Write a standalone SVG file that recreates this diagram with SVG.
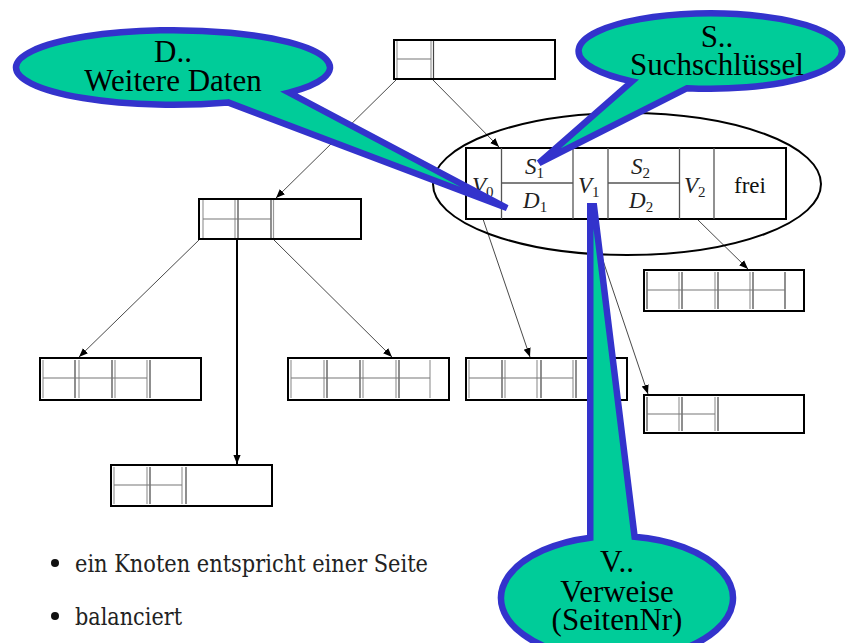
<svg xmlns="http://www.w3.org/2000/svg" width="849" height="643" viewBox="0 0 849 643">
<defs>
<marker id="arr" viewBox="0 0 10 10" refX="10" refY="5" markerWidth="9" markerHeight="9" markerUnits="userSpaceOnUse" orient="auto">
<path d="M0,1 L10,5 L0,9 z" fill="#000"/>
</marker>
<style>
.box{fill:#fff;stroke:#000;stroke-width:2}
.d1{stroke:#444;stroke-width:1.2;fill:none}
.d2{stroke:#999;stroke-width:1.2;fill:none}
.mid{stroke:#777;stroke-width:1.2;fill:none}
.edge{stroke:#333;stroke-width:0.9;fill:none}
.thick{stroke:#000;stroke-width:2;fill:none}
.cell{stroke:#555;stroke-width:1.3;fill:none}
.mt{font-style:italic;font-size:23px;fill:#222}
.sub{font-style:normal;font-size:15px}
.rm{font-size:23px;fill:#111}
.ct{font-size:31px;fill:#000;text-anchor:middle}
.bt{font-size:24px;fill:#222}
.co{fill:#00cc99;stroke:#3333cc;stroke-width:6.5;stroke-linejoin:miter}
</style>
</defs>

<g id="connectors">
<line class="edge" x1="397" y1="79" x2="276" y2="198" marker-end="url(#arr)"/>
<line class="edge" x1="432" y1="79" x2="499" y2="147" marker-end="url(#arr)"/>
<line class="edge" x1="200" y1="239" x2="79" y2="357" marker-end="url(#arr)"/>
<line class="thick" x1="237" y1="239" x2="237" y2="464" marker-end="url(#arr)"/>
<line class="edge" x1="273" y1="239" x2="392" y2="357" marker-end="url(#arr)"/>
<line class="edge" x1="483" y1="219" x2="530" y2="357" marker-end="url(#arr)"/>
<line class="edge" x1="589" y1="219" x2="648" y2="394" marker-end="url(#arr)"/>
<line class="edge" x1="697" y1="219" x2="748" y2="269" marker-end="url(#arr)"/>
</g>

<g id="root">
<rect class="box" x="394" y="40" width="161" height="39"/>
<line class="d2" x1="397" y1="41" x2="397" y2="78"/>
<line class="d2" x1="431" y1="41" x2="431" y2="78"/>
<line class="d1" x1="433.5" y1="41" x2="433.5" y2="78"/>
<line class="mid" x1="397" y1="59" x2="431" y2="59"/>
</g>

<g id="inner">
<rect class="box" x="199" y="199" width="162" height="40"/>
<line class="d2" x1="203" y1="200" x2="203" y2="238"/>
<line class="d2" x1="235" y1="200" x2="235" y2="238"/>
<line class="d1" x1="238" y1="200" x2="238" y2="238"/>
<line class="d1" x1="271" y1="200" x2="271" y2="238"/>
<line class="d2" x1="273.5" y1="200" x2="273.5" y2="238"/>
<line class="mid" x1="203" y1="219" x2="271" y2="219"/>
</g>

<g id="bignode" font-family="Liberation Serif, serif">
<ellipse cx="627" cy="184" rx="194" ry="71" fill="none" stroke="#000" stroke-width="2"/>
<rect class="box" x="466" y="148" width="320" height="71"/>
<line class="cell" x1="501.5" y1="148" x2="501.5" y2="219"/>
<line class="cell" x1="573" y1="148" x2="573" y2="219"/>
<line class="cell" x1="608" y1="148" x2="608" y2="219"/>
<line class="cell" x1="679.5" y1="148" x2="679.5" y2="219"/>
<line class="cell" x1="714" y1="148" x2="714" y2="219"/>
<line class="cell" x1="501.5" y1="183" x2="573" y2="183"/>
<line class="cell" x1="608" y1="183" x2="679.5" y2="183"/>
<text class="mt" x="472" y="193">V<tspan class="sub" dy="4">0</tspan></text>
<text class="mt" x="525" y="174">S<tspan class="sub" dy="4">1</tspan></text>
<text class="mt" x="523" y="208">D<tspan class="sub" dy="4">1</tspan></text>
<text class="mt" x="578" y="193">V<tspan class="sub" dy="4">1</tspan></text>
<text class="mt" x="631" y="174">S<tspan class="sub" dy="4">2</tspan></text>
<text class="mt" x="629" y="208">D<tspan class="sub" dy="4">2</tspan></text>
<text class="mt" x="684" y="193">V<tspan class="sub" dy="4">2</tspan></text>
<text class="rm" x="750" y="193" text-anchor="middle">frei</text>
</g>

<g id="leaf1">
<rect class="box" x="40" y="358" width="161" height="42"/>
<line class="d2" x1="43" y1="360" x2="43" y2="398"/>
<line class="d1" x1="75" y1="360" x2="75" y2="398"/>
<line class="d2" x1="79" y1="360" x2="79" y2="398"/>
<line class="d1" x1="112" y1="360" x2="112" y2="398"/>
<line class="d2" x1="115" y1="360" x2="115" y2="398"/>
<line class="d2" x1="147" y1="360" x2="147" y2="398"/>
<line class="d1" x1="150" y1="360" x2="150" y2="398"/>
<line class="mid" x1="43" y1="378" x2="147" y2="378"/>
</g>

<g id="leaf2">
<rect class="box" x="288" y="358" width="161" height="42"/>
<line class="d2" x1="291" y1="360" x2="291" y2="398"/>
<line class="d2" x1="324" y1="360" x2="324" y2="398"/>
<line class="d1" x1="327" y1="360" x2="327" y2="398"/>
<line class="d1" x1="360" y1="360" x2="360" y2="398"/>
<line class="d2" x1="363" y1="360" x2="363" y2="398"/>
<line class="d2" x1="396" y1="360" x2="396" y2="398"/>
<line class="d1" x1="399" y1="360" x2="399" y2="398"/>
<line class="d2" x1="430" y1="360" x2="430" y2="398"/>
<line class="mid" x1="291" y1="378" x2="430" y2="378"/>
</g>

<g id="leaf3">
<rect class="box" x="111" y="465" width="161" height="41"/>
<line class="d2" x1="114" y1="467" x2="114" y2="504"/>
<line class="d2" x1="147" y1="467" x2="147" y2="504"/>
<line class="d1" x1="150" y1="467" x2="150" y2="504"/>
<line class="d2" x1="182" y1="467" x2="182" y2="504"/>
<line class="d1" x1="186" y1="467" x2="186" y2="504"/>
<line class="mid" x1="114" y1="485" x2="182" y2="485"/>
</g>

<g id="leaf4">
<rect class="box" x="466" y="358" width="161" height="42"/>
<line class="d2" x1="469" y1="360" x2="469" y2="398"/>
<line class="d1" x1="502" y1="360" x2="502" y2="398"/>
<line class="d2" x1="505" y1="360" x2="505" y2="398"/>
<line class="d2" x1="537" y1="360" x2="537" y2="398"/>
<line class="d1" x1="541" y1="360" x2="541" y2="398"/>
<line class="d2" x1="573" y1="360" x2="573" y2="398"/>
<line class="d1" x1="576" y1="360" x2="576" y2="398"/>
<line class="mid" x1="469" y1="378" x2="573" y2="378"/>
</g>

<g id="leaf5">
<rect class="box" x="644" y="270" width="160" height="41"/>
<line class="d1" x1="647" y1="272" x2="647" y2="309"/>
<line class="d2" x1="679" y1="272" x2="679" y2="309"/>
<line class="d1" x1="682" y1="272" x2="682" y2="309"/>
<line class="d2" x1="715" y1="272" x2="715" y2="309"/>
<line class="d1" x1="718" y1="272" x2="718" y2="309"/>
<line class="d2" x1="750" y1="272" x2="750" y2="309"/>
<line class="d1" x1="753" y1="272" x2="753" y2="309"/>
<line class="d1" x1="785" y1="272" x2="785" y2="309"/>
<line class="mid" x1="647" y1="290" x2="785" y2="290"/>
</g>

<g id="leaf6">
<rect class="box" x="644" y="395" width="160" height="38"/>
<line class="d1" x1="647" y1="397" x2="647" y2="431"/>
<line class="d2" x1="679" y1="397" x2="679" y2="431"/>
<line class="d1" x1="682" y1="397" x2="682" y2="431"/>
<line class="d2" x1="715" y1="397" x2="715" y2="431"/>
<line class="d1" x1="718" y1="397" x2="718" y2="431"/>
<line class="mid" x1="647" y1="414" x2="715" y2="414"/>
</g>

<g id="bullets" font-family="DejaVu Serif, serif">
<circle cx="55" cy="563" r="4" fill="#111"/>
<text class="bt" x="75" y="572" textLength="353" lengthAdjust="spacingAndGlyphs">ein Knoten entspricht einer Seite</text>
<circle cx="55" cy="616" r="4" fill="#111"/>
<text class="bt" x="75" y="625" textLength="107" lengthAdjust="spacingAndGlyphs">balanciert</text>
</g>

<g id="callout-d" font-family="Liberation Serif, serif">
<path class="co" d="M228,102.4 A157,37.3 0 1 1 289,92.6 L507,208 Z"/>
<text class="ct" x="173" y="62">D..</text>
<text class="ct" x="173" y="91">Weitere Daten</text>
</g>

<g id="callout-s" font-family="Liberation Serif, serif">
<path class="co" d="M632,81.4 A131.75,37.75 0 1 1 687,88.2 L539,163 Z"/>
<text class="ct" x="717" y="47">S..</text>
<text class="ct" x="717" y="75">Suchschlüssel</text>
</g>

<g id="callout-v" font-family="Liberation Serif, serif">
<path class="co" d="M634.6,536.75 A116,62 0 1 1 590.25,537.7 L590.25,206.25 L594,206.25 Z"/>
<text class="ct" x="617" y="572">V..</text>
<text class="ct" x="617" y="602">Verweise</text>
<text class="ct" x="617" y="630">(SeitenNr)</text>
</g>
</svg>
